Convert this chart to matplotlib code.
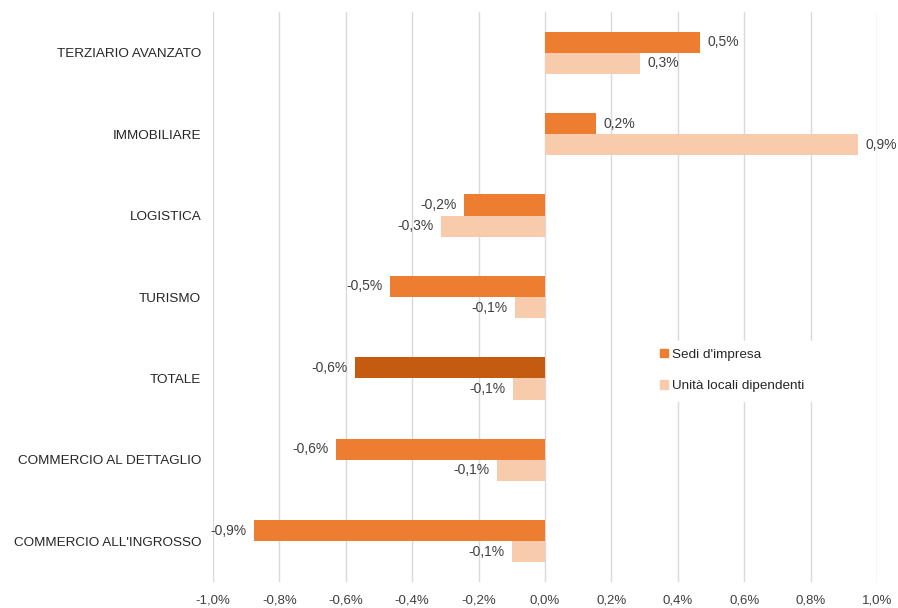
import numpy as np
import matplotlib.pyplot as plt
from matplotlib.patches import Patch

plt.rcParams['font.family'] = ['Liberation Sans', 'DejaVu Sans']

# data, top to bottom as in the picture
categories = ['TERZIARIO AVANZATO', 'IMMOBILIARE', 'LOGISTICA', 'TURISMO',
              'TOTALE', 'COMMERCIO AL DETTAGLIO', "COMMERCIO ALL'INGROSSO"]
sedi = [0.467, 0.154, -0.244, -0.467, -0.572, -0.630, -0.877]
unita = [0.286, 0.943, -0.313, -0.090, -0.096, -0.145, -0.099]
xticks = [-1.0, -0.8, -0.6, -0.4, -0.2, 0.0, 0.2, 0.4, 0.6, 0.8, 1.0]

c_sedi = '#ED7D31'
c_unita = '#F8CBAD'
c_tot = '#C55A11'
txt = '#404040'

fig = plt.figure(figsize=(8.98, 6.08), dpi=100)
ax = fig.add_axes([0.2372, 0.043, 0.7394, 0.937])

y = np.arange(len(categories))
h = 0.26
cols = [c_tot if c == 'TOTALE' else c_sedi for c in categories]
b1 = ax.barh(y - h / 2, sedi, height=h, color=cols, zorder=3)
b2 = ax.barh(y + h / 2, unita, height=h, color=c_unita, zorder=3)

def lab(v):
    return ('%.1f%%' % v).replace('.', ',')

for bars, vals in ((b1, sedi), (b2, unita)):
    for b, v in zip(bars, vals):
        yc = b.get_y() + b.get_height() / 2
        if v >= 0:
            ax.text(v + 0.022, yc, lab(v), ha='left', va='center', fontsize=10, color=txt)
        else:
            ax.text(v - 0.022, yc, lab(v), ha='right', va='center', fontsize=10, color=txt)

ax.set_ylim(len(categories) - 0.5, -0.5)
ax.set_yticks(y)
ax.set_yticklabels(categories, fontsize=9.7, color='#262626')
ax.set_xlim(-1.0, 1.0)
ax.set_xticks(xticks)
ax.set_xticklabels([lab(t) for t in xticks], fontsize=9.5, color=txt)
ax.tick_params(length=0, pad=9)
ax.tick_params(axis='y', pad=8.5)
ax.grid(axis='x', color='#D9D9D9', linewidth=1, zorder=0)
for s in ax.spines.values():
    s.set_visible(False)

handles = [Patch(color=c_sedi, label="Sedi d'impresa"),
           Patch(color=c_unita, label='Unità locali dipendenti')]
leg = ax.legend(handles=handles, loc='upper left', bbox_to_anchor=(0.651, 0.435),
                frameon=True, fontsize=9.7, handlelength=0.6, handleheight=0.6,
                handletextpad=0.3, labelspacing=1.45, borderpad=0.6)
leg.get_frame().set_edgecolor('white')
leg.get_frame().set_facecolor('white')
leg.get_frame().set_alpha(1)
leg.get_frame().set_boxstyle('square', pad=0)
for t in leg.get_texts():
    t.set_color('#262626')

fig.savefig('out.png', dpi=100, facecolor='white')
